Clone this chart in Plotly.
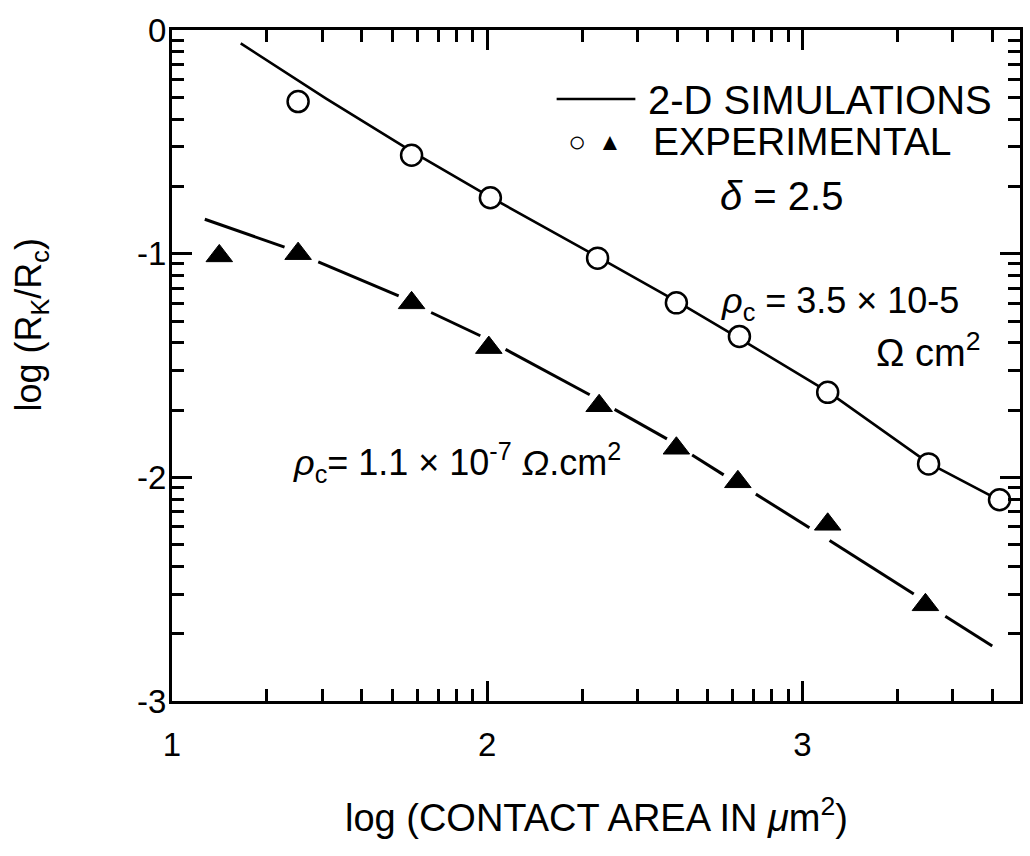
import numpy as np
import plotly.graph_objects as go

# ---------------- data (log10 units) ----------------
area_circle = [1.40, 1.76, 2.01, 2.35, 2.60, 2.80, 3.08, 3.40, 3.625]
rk_circle = [-0.32, -0.56, -0.75, -1.02, -1.22, -1.37, -1.62, -1.94, -2.10]

area_tri = [1.15, 1.40, 1.76, 2.005, 2.355, 2.60, 2.795, 3.08, 3.39]
rk_tri = [-1.01, -1.00, -1.22, -1.42, -1.68, -1.87, -2.02, -2.21, -2.57]

# 2-D simulation, rho_c = 3.5e-5 (solid)
sim_hi_x = [1.218, 1.489, 1.763, 2.007, 2.349, 2.604, 2.801, 3.084, 3.399, 3.642]
sim_hi_y = [-0.060, -0.307, -0.545, -0.745, -1.013, -1.215, -1.380, -1.620, -1.935, -2.115]

# 2-D simulation, rho_c = 1.1e-7 (broken line, dashes between the triangles)
sim_lo_x = [1.104, 1.357, None, 1.464, 1.719, None, 1.822, 1.978, None,
            2.058, 2.325, None, 2.404, 2.570, None, 2.650, 2.750, None,
            2.852, 3.022, None, 3.086, 3.353, None, 3.453, 3.602]
sim_lo_y = [-0.846, -0.971, None, -1.037, -1.189, None, -1.263, -1.367, None,
            -1.428, -1.631, None, -1.696, -1.828, None, -1.900, -1.989, None,
            -2.075, -2.225, None, -2.282, -2.522, None, -2.621, -2.754]

x_tickvals = [1, 2, 3]
x_ticktext = ["1", "2", "3"]
y_tickvals = [0, -1, -2, -3]
y_ticktext = ["0", "-1", "-2", "-3"]

X_RANGE = [1, 3.69]
Y_RANGE = [-3, 0]

# ---------------- layout helpers ----------------
W, H = 1030, 856
L, R, T, B = 172, 7, 30, 155
PW, PH = W - L - R, H - T - B


def px(x):
    return (x - L) / PW


def py(y):
    return (H - B - y) / PH


FONT = "Liberation Sans, Arial, Helvetica, sans-serif"

minor_x = [d + np.log10(k) for d in (1, 2, 3) for k in range(2, 10)
           if d + np.log10(k) < X_RANGE[1]]
minor_y = [d + np.log10(k) for d in (-3, -2, -1) for k in range(2, 10)]

fig = go.Figure()

fig.add_trace(go.Scatter(x=sim_hi_x, y=sim_hi_y, mode="lines",
                         line=dict(color="black", width=2.6),
                         showlegend=False, hoverinfo="skip"))
fig.add_trace(go.Scatter(x=sim_lo_x, y=sim_lo_y, mode="lines",
                         line=dict(color="black", width=3),
                         connectgaps=False, showlegend=False, hoverinfo="skip"))
fig.add_trace(go.Scatter(x=area_circle, y=rk_circle, mode="markers",
                         marker=dict(symbol="circle", size=21, color="white",
                                     line=dict(color="black", width=2.5)),
                         showlegend=False))
fig.add_trace(go.Scatter(x=area_tri, y=rk_tri, mode="markers",
                         marker=dict(symbol="triangle-up", size=23, color="black",
                                     line=dict(color="black", width=1)),
                         showlegend=False))

axis_common = dict(showline=True, linecolor="black", linewidth=3,
                   mirror="ticks", ticks="inside", ticklen=20, tickwidth=2.5,
                   tickcolor="black", showgrid=False, zeroline=False,
                   tickfont=dict(family=FONT, size=33, color="black"))

fig.update_xaxes(range=X_RANGE, tickmode="array", tickvals=x_tickvals,
                 ticktext=x_ticktext, ticklabelstandoff=12,
                 minor=dict(tickmode="array", tickvals=minor_x, ticks="inside",
                            ticklen=12, tickwidth=2.5, tickcolor="black"),
                 **axis_common)
fig.update_yaxes(range=Y_RANGE, tickmode="array", tickvals=y_tickvals,
                 ticktext=y_ticktext, ticklabelstandoff=-4,
                 minor=dict(tickmode="array", tickvals=minor_y, ticks="inside",
                            ticklen=12, tickwidth=2.5, tickcolor="black"),
                 **axis_common)

ann = []


def add_text(text, x, y, size, xanchor="left", textangle=0):
    ann.append(dict(text=text, x=px(x), y=py(y), xref="paper", yref="paper",
                    xanchor=xanchor, yanchor="middle", showarrow=False,
                    textangle=textangle,
                    font=dict(family=FONT, size=size, color="black")))


add_text("2-D SIMULATIONS", 648, 100, 40)
add_text("○", 578, 141, 30, xanchor="center")
add_text("▲", 612, 141, 24, xanchor="center")
add_text("EXPERIMENTAL", 653, 141, 39)
add_text("<i>δ</i> = 2.5", 720, 196, 40)
add_text("<i>ρ</i><sub>c</sub> = 3.5 × 10-5", 721, 303, 36)
add_text("Ω cm<sup>2</sup>", 876, 350, 38)
add_text("<i>ρ</i><sub>c</sub>= 1.1 × 10<sup>-7</sup> <i>Ω</i>.cm<sup>2</sup>", 291, 463, 36)
add_text("log (CONTACT AREA IN <i>μ</i>m<sup>2</sup>)", 598, 815, 38, xanchor="center")
add_text("log (R<sub>K</sub>/R<sub>c</sub>)", 31, 325, 36, xanchor="center", textangle=-90)

fig.update_layout(
    width=W, height=H,
    margin=dict(l=L, r=R, t=T, b=B, pad=0),
    paper_bgcolor="white", plot_bgcolor="white",
    annotations=ann,
    shapes=[dict(type="line", xref="paper", yref="paper",
                 x0=px(558), x1=px(637), y0=py(99), y1=py(99),
                 line=dict(color="black", width=2.6))],
    showlegend=False,
)

fig.write_html("out.html")
